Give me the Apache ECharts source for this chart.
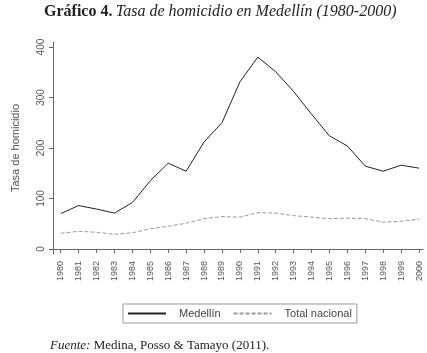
<!DOCTYPE html>
<html><head><meta charset="utf-8">
<script src="https://cdn.jsdelivr.net/npm/echarts@6/dist/echarts.min.js"></script>
<style>html,body{margin:0;padding:0;background:#fff}#c{width:427px;height:353px}</style>
</head><body><div id="c"></div>
<script>
const years = [1980,1981,1982,1983,1984,1985,1986,1987,1988,1989,1990,1991,1992,1993,1994,1995,1996,1997,1998,1999,2000];
const medellin = [70,86,79,71,92,135,170,154,212,250,331,380,351,312,267,224,204,164,154,166,160];
const nacional = [31,35,33,29,32,40,45,51,60,64,63,72,71,66,63,60,61,60,53,55,59];
const yTicks = [0,100,200,300,400];

const chart = echarts.init(document.getElementById('c'), null, {renderer:'canvas'});
const pair = arr => years.map((y,i)=>[y,arr[i]]);
chart.setOption({
  animation:false,
  backgroundColor:'#fff',
  grid:{left:53,right:4,top:42,bottom:99,containLabel:false},
  xAxis:{type:'value',min:1979.57,max:2000.22,
    axisLine:{show:true,lineStyle:{color:'#666',width:1}},
    axisTick:{show:true,length:4,customValues:years,lineStyle:{color:'#666'}},
    axisLabel:{customValues:years,rotate:90,margin:7,fontSize:9,color:'#555',fontFamily:'Liberation Sans, Arial',
      formatter:v=>String(Math.round(v))},
    splitLine:{show:false}},
  yAxis:{type:'value',min:-10,max:410,
    name:'Tasa de homicidio',nameLocation:'middle',nameGap:32,
    nameTextStyle:{fontSize:11,color:'#555',fontFamily:'Liberation Sans, Arial'},
    axisLine:{show:true,lineStyle:{color:'#666',width:1}},
    axisTick:{show:true,length:4,customValues:yTicks,lineStyle:{color:'#666'}},
    axisLabel:{customValues:yTicks,rotate:90,margin:7,fontSize:10,color:'#555',fontFamily:'Liberation Sans, Arial'},
    splitLine:{show:false}},
  legend:{left:123,top:304,padding:[4,5,4,4],itemGap:12,itemWidth:38,itemHeight:10,
    borderColor:'#999',borderWidth:1,borderRadius:0,
    itemStyle:{opacity:0},
    textStyle:{fontSize:11,color:'#444',fontFamily:'Liberation Sans, Arial',padding:[0,0,0,8]},
    data:['Medellín','Total nacional']},
  series:[
    {name:'Medellín',type:'line',symbol:'none',data:pair(medellin),
      lineStyle:{color:'#222',width:1},itemStyle:{color:'#222'}},
    {name:'Total nacional',type:'line',symbol:'none',data:pair(nacional),
      lineStyle:{color:'#999',width:1,type:[4,2]},itemStyle:{color:'#999'}}
  ],
  graphic:[
    {type:'text',left:44,top:4,style:{
      text:'{b|Gráfico 4.} {i|Tasa de homicidio en Medellín (1980-2000)}',
      rich:{b:{fontFamily:'Liberation Serif',fontWeight:'bold',fontSize:16,fill:'#222'},
            i:{fontFamily:'Liberation Serif',fontStyle:'italic',fontSize:16,fill:'#222'}}}},
    {type:'text',left:50,top:339,style:{
      text:'{i|Fuente:} {r|Medina, Posso & Tamayo (2011).}',
      rich:{i:{fontFamily:'Liberation Serif',fontStyle:'italic',fontSize:13,fill:'#222'},
            r:{fontFamily:'Liberation Serif',fontSize:13,fill:'#222'}}}}
  ]
});
</script></body></html>
